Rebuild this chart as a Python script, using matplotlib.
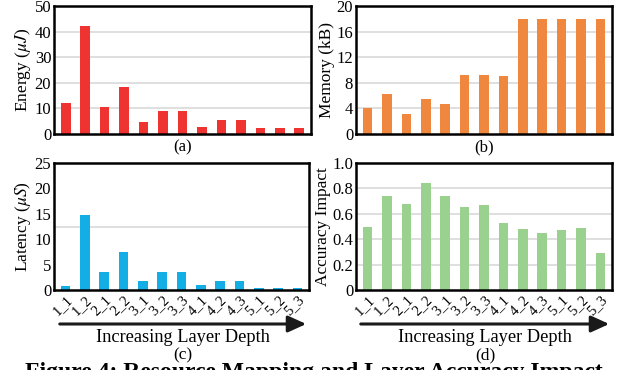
import matplotlib
matplotlib.use("Agg")
import matplotlib.pyplot as plt
from matplotlib.patches import FancyArrowPatch
import numpy as np

plt.rcParams["font.family"] = ["Liberation Serif", "DejaVu Serif"]
plt.rcParams["mathtext.fontset"] = "stix"

layers = ["1_1", "1_2", "2_1", "2_2", "3_1", "3_2", "3_3",
          "4_1", "4_2", "4_3", "5_1", "5_2", "5_3"]
energy = [12.1, 42.2, 10.5, 18.4, 4.7, 9.1, 9.1, 2.9, 5.3, 5.3, 2.4, 2.4, 2.4]
memory = [4.1, 6.2, 3.2, 5.5, 4.7, 9.2, 9.2, 9.0, 18.0, 18.0, 18.0, 18.0, 18.0]
latency = [0.7, 14.8, 3.6, 7.4, 1.8, 3.6, 3.6, 0.9, 1.8, 1.8, 0.4, 0.4, 0.4]
accuracy = [0.50, 0.74, 0.68, 0.845, 0.74, 0.65, 0.67, 0.53, 0.48, 0.45, 0.47, 0.49, 0.295]

W, H = 628, 370
fig = plt.figure(figsize=(W / 100, H / 100), dpi=100)


def px_axes(l, t, r, b):
    return fig.add_axes([l / W, (H - b) / H, (r - l) / W, (b - t) / H])


panels = [
    (px_axes(54, 6, 311, 134), energy, "#EE3330", r"Energy ($\mu J$)", 50, np.arange(0, 51, 10), np.arange(10, 50, 10), "(a)"),
    (px_axes(356, 6, 612, 134), memory, "#F0873E", "Memory (kB)", 20, np.arange(0, 21, 4), np.arange(4, 20, 4), "(b)"),
    (px_axes(54, 163, 309, 290), latency, "#12AEE5", r"Latency ($\mu S$)", 25, np.arange(0, 26, 5), [12.5], "(c)"),
    (px_axes(356, 163, 612, 290), accuracy, "#9BD18E", "Accuracy Impact", 1.0, [0, 0.2, 0.4, 0.6, 0.8, 1.0], [0.2, 0.4, 0.6, 0.8], "(d)"),
]

x = np.arange(len(layers))
for i, (ax, vals, color, ylabel, ymax, ticks, grid, tag) in enumerate(panels):
    for g in grid:
        ax.axhline(g, color="#D9D9D9", lw=1.2, zorder=0)
    ax.bar(x, vals, width=0.5, color=color, zorder=2)
    ax.set_xlim(-0.6, len(layers) - 0.4)
    ax.set_ylim(0, ymax)
    ax.set_yticks(ticks)
    if ymax == 1.0:
        ax.set_yticklabels(["0", "0.2", "0.4", "0.6", "0.8", "1.0"])
    ax.tick_params(axis="y", length=0, labelsize=12, pad=2)
    ax.set_ylabel(ylabel, fontsize=12.5, labelpad=1)
    for s in ax.spines.values():
        s.set_linewidth(1.8)
    if i < 2:
        ax.set_xticks([])
        ax.text(0.5, -0.04, tag, transform=ax.transAxes, ha="center", va="top", fontsize=12)
    else:
        ax.set_xticks(x)
        ax.set_xticklabels(layers, rotation=45, ha="right", rotation_mode="anchor", fontsize=10.5)
        ax.tick_params(axis="x", length=0, pad=2)

# arrows and labels under the bottom panels
for x0, x1, tag in [(57, 309, "(c)"), (358, 612, "(d)")]:
    fig.add_artist(FancyArrowPatch(
        (x0 / W, 46 / H), (x1 / W, 46 / H), transform=fig.transFigure,
        arrowstyle="-|>,head_length=11,head_width=5", lw=2.2, color="#1a1a1a", mutation_scale=1))
    fig.text((x0 + x1) / 2 / W, 32 / H, "Increasing Layer Depth", ha="center", va="center", fontsize=13.2)
    fig.text((x0 + x1) / 2 / W, 15 / H, tag, ha="center", va="center", fontsize=12.5)

fig.text(0.5, -8 / H, "Figure 4: Resource Mapping and Layer Accuracy Impact",
         ha="center", va="baseline", fontsize=17, fontweight="bold")

fig.savefig("out.png", dpi=100)
